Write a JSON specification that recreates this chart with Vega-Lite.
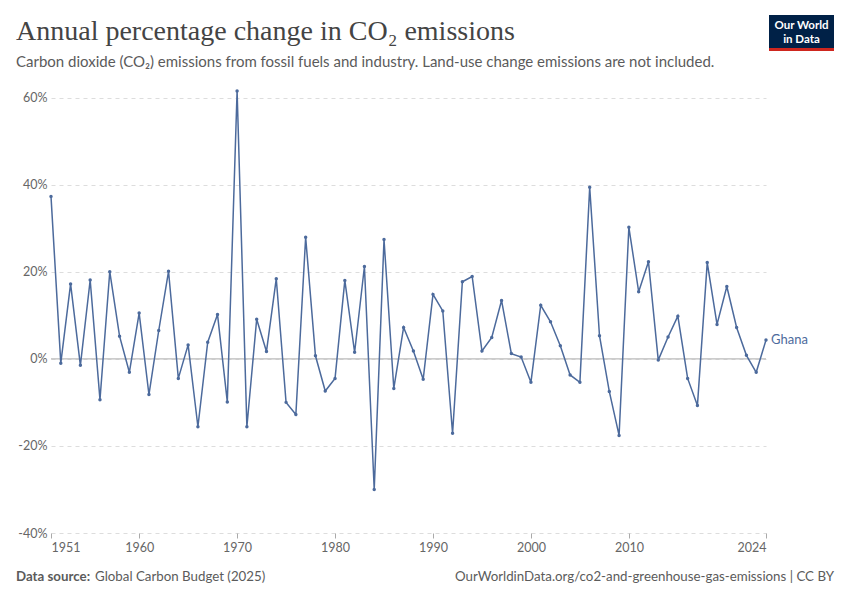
{
  "$schema": "https://vega.github.io/schema/vega-lite/v6.json",
  "autosize": {"type": "none"},
  "width": 715,
  "height": 442,
  "padding": {"left": 51, "top": 91, "right": 84, "bottom": 67},
  "background": "white",
  "config": {"view": {"stroke": null}},
  "title": {
    "text": "Annual percentage change in CO₂ emissions",
    "subtitle": "Carbon dioxide (CO₂) emissions from fossil fuels and industry. Land-use change emissions are not included.",
    "anchor": "start",
    "frame": "group",
    "dx": -35,
    "offset": -55,
    "font": "Liberation Serif",
    "fontSize": 28,
    "fontWeight": "normal",
    "color": "#444444",
    "subtitleFont": "Lato",
    "subtitleFontSize": 15,
    "subtitleColor": "#5b5b5b",
    "subtitlePadding": 9
  },
  "datasets": {
    "co2": [
      {"year": 1951, "change": 37.3}, {"year": 1952, "change": -1.0}, {"year": 1953, "change": 17.2},
      {"year": 1954, "change": -1.5}, {"year": 1955, "change": 18.1}, {"year": 1956, "change": -9.4},
      {"year": 1957, "change": 20.0}, {"year": 1958, "change": 5.2}, {"year": 1959, "change": -3.1},
      {"year": 1960, "change": 10.5}, {"year": 1961, "change": -8.2}, {"year": 1962, "change": 6.5},
      {"year": 1963, "change": 20.1}, {"year": 1964, "change": -4.5}, {"year": 1965, "change": 3.2},
      {"year": 1966, "change": -15.6}, {"year": 1967, "change": 3.8}, {"year": 1968, "change": 10.2},
      {"year": 1969, "change": -9.9}, {"year": 1970, "change": 61.5}, {"year": 1971, "change": -15.6},
      {"year": 1972, "change": 9.1}, {"year": 1973, "change": 1.7}, {"year": 1974, "change": 18.4},
      {"year": 1975, "change": -10.0}, {"year": 1976, "change": -12.8}, {"year": 1977, "change": 27.9},
      {"year": 1978, "change": 0.7}, {"year": 1979, "change": -7.4}, {"year": 1980, "change": -4.5},
      {"year": 1981, "change": 18.0}, {"year": 1982, "change": 1.5}, {"year": 1983, "change": 21.2},
      {"year": 1984, "change": -30.0}, {"year": 1985, "change": 27.4}, {"year": 1986, "change": -6.8},
      {"year": 1987, "change": 7.2}, {"year": 1988, "change": 1.8}, {"year": 1989, "change": -4.7},
      {"year": 1990, "change": 14.8}, {"year": 1991, "change": 11.0}, {"year": 1992, "change": -17.1},
      {"year": 1993, "change": 17.7}, {"year": 1994, "change": 18.9}, {"year": 1995, "change": 1.8},
      {"year": 1996, "change": 4.9}, {"year": 1997, "change": 13.4}, {"year": 1998, "change": 1.2},
      {"year": 1999, "change": 0.4}, {"year": 2000, "change": -5.4}, {"year": 2001, "change": 12.3},
      {"year": 2002, "change": 8.5}, {"year": 2003, "change": 3.0}, {"year": 2004, "change": -3.7},
      {"year": 2005, "change": -5.4}, {"year": 2006, "change": 39.4}, {"year": 2007, "change": 5.3},
      {"year": 2008, "change": -7.5}, {"year": 2009, "change": -17.6}, {"year": 2010, "change": 30.2},
      {"year": 2011, "change": 15.4}, {"year": 2012, "change": 22.3}, {"year": 2013, "change": -0.3},
      {"year": 2014, "change": 5.0}, {"year": 2015, "change": 9.8}, {"year": 2016, "change": -4.5},
      {"year": 2017, "change": -10.7}, {"year": 2018, "change": 22.1}, {"year": 2019, "change": 7.9},
      {"year": 2020, "change": 16.6}, {"year": 2021, "change": 7.2}, {"year": 2022, "change": 0.8},
      {"year": 2023, "change": -3.1}, {"year": 2024, "change": 4.3}
    ]
  },
  "data": {"name": "co2"},
  "encoding": {
    "x": {
      "field": "year",
      "type": "quantitative",
      "scale": {"domain": [1951, 2024], "nice": false, "zero": false},
      "axis": {
        "values": [1951, 1960, 1970, 1980, 1990, 2000, 2010, 2024],
        "format": "d",
        "title": null,
        "grid": false,
        "domain": false,
        "ticks": true,
        "tickSize": 5,
        "tickColor": "#aaaaaa",
        "labelFlush": true,
        "labelPadding": 3,
        "labelFont": "Lato",
        "labelFontSize": 12.5,
        "labelColor": "#666666"
      }
    },
    "y": {
      "field": "change",
      "type": "quantitative",
      "scale": {"domain": [-40, 61.5], "nice": false, "zero": false},
      "axis": {
        "values": [-40, -20, 0, 20, 40, 60],
        "labelExpr": "datum.value + '%'",
        "title": null,
        "domain": false,
        "ticks": false,
        "grid": true,
        "gridColor": "#dddddd",
        "gridDash": [4, 4],
        "gridWidth": 1,
        "labelPadding": 4,
        "labelFont": "Lato",
        "labelFontSize": 12.5,
        "labelColor": "#666666"
      }
    }
  },
  "layer": [
    {
      "data": {"values": [{"zero": 0}]},
      "mark": {"type": "rule", "color": "#bbbbbb", "strokeWidth": 1.2},
      "encoding": {"y": {"field": "zero", "type": "quantitative"}, "x": null}
    },
    {
      "mark": {"type": "line", "color": "#4c6a9c", "strokeWidth": 1.5}
    },
    {
      "mark": {"type": "point", "filled": true, "color": "#4c6a9c", "size": 12, "opacity": 1}
    },
    {
      "transform": [{"filter": "datum.year == 2024"}],
      "mark": {"type": "text", "align": "left", "baseline": "middle", "dx": 5, "font": "Lato", "fontSize": 13, "color": "#4c6a9c"},
      "encoding": {"text": {"value": "Ghana"}}
    },
    {
      "data": {"values": [{"label": "Data source:"}]},
      "mark": {"type": "text", "align": "left", "baseline": "alphabetic", "font": "Lato", "fontSize": 13.3, "fontWeight": "bold", "color": "#5b5b5b"},
      "encoding": {"x": {"value": -35}, "y": {"value": 490}, "text": {"field": "label"}}
    },
    {
      "data": {"values": [{"label": "Global Carbon Budget (2025)"}]},
      "mark": {"type": "text", "align": "left", "baseline": "alphabetic", "font": "Lato", "fontSize": 13.3, "color": "#5b5b5b"},
      "encoding": {"x": {"value": 44}, "y": {"value": 490}, "text": {"field": "label"}}
    },
    {
      "data": {"values": [{"label": "OurWorldinData.org/co2-and-greenhouse-gas-emissions | CC BY"}]},
      "mark": {"type": "text", "align": "right", "baseline": "alphabetic", "font": "Lato", "fontSize": 13.3, "color": "#5b5b5b"},
      "encoding": {"x": {"value": 783}, "y": {"value": 490}, "text": {"field": "label"}}
    },
    {
      "data": {"values": [{"box": "logo"}]},
      "mark": {"type": "rect", "color": "#002147"},
      "encoding": {"x": {"value": 718}, "x2": {"value": 783}, "y": {"value": -76}, "y2": {"value": -40}}
    },
    {
      "data": {"values": [{"box": "bar"}]},
      "mark": {"type": "rect", "color": "#ce261e"},
      "encoding": {"x": {"value": 718}, "x2": {"value": 783}, "y": {"value": -43}, "y2": {"value": -40}}
    },
    {
      "data": {"values": [{"label": "Our World"}]},
      "mark": {"type": "text", "align": "center", "baseline": "middle", "font": "Lato", "fontSize": 11.5, "fontWeight": "bold", "color": "white"},
      "encoding": {"x": {"value": 750.5}, "y": {"value": -65}, "text": {"field": "label"}}
    },
    {
      "data": {"values": [{"label": "in Data"}]},
      "mark": {"type": "text", "align": "center", "baseline": "middle", "font": "Lato", "fontSize": 11.5, "fontWeight": "bold", "color": "white"},
      "encoding": {"x": {"value": 750.5}, "y": {"value": -51}, "text": {"field": "label"}}
    }
  ]
}
